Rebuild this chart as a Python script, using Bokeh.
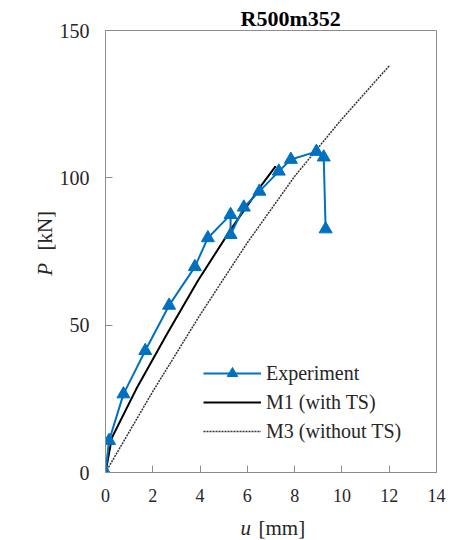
import math
from bokeh.plotting import figure
from bokeh.models import Range1d, FixedTicker, Label, Legend, LegendItem, Title
from bokeh.embed import file_html
from bokeh.resources import INLINE

# ---- data ----
exp_u = [0.0, 0.15, 0.76, 1.68, 2.69, 3.78, 4.33, 5.29, 5.29, 5.85, 6.51, 7.33, 7.84, 8.92, 9.23, 9.31]
exp_p = [0.0, 10.8, 26.6, 41.3, 56.7, 69.8, 79.6, 87.5, 80.7, 90.0, 95.4, 102.2, 106.2, 108.9, 107.0, 82.6]

m1_u = [0.0, 0.27, 1.3, 2.6, 3.9, 5.3, 6.6, 7.2]
m1_p = [0.0, 11.8, 28.3, 47.0, 65.0, 82.5, 97.5, 104.0]

m3_u = [0.0, 2.0, 4.0, 6.0, 8.0, 10.0, 12.0]
m3_p = [0.0, 27.5, 53.5, 78.0, 100.5, 120.0, 138.0]

x_ticks = [0, 2, 4, 6, 8, 10, 12, 14]
y_ticks = [0, 50, 100, 150]

title_text = "R500m352"
legend_labels = ["Experiment", "M1 (with TS)", "M3 (without TS)"]

FONT = "Liberation Serif"
BLUE = "#0070C0"
GRAY = "#8c8c8c"
TXT = "#262626"

p = figure(width=463, height=540, output_backend="svg", toolbar_location=None,
           x_range=Range1d(0, 14), y_range=Range1d(0, 150),
           min_border_left=105, min_border_right=27, min_border_top=30, min_border_bottom=68)
p.background_fill_color = "white"
p.border_fill_color = "white"
p.outline_line_color = GRAY
p.outline_line_width = 1
p.xgrid.grid_line_color = None
p.ygrid.grid_line_color = None

for ax, ticks, fs in ((p.xaxis, x_ticks, "18px"), (p.yaxis, y_ticks, "20px")):
    ax.ticker = FixedTicker(ticks=ticks)
    ax.axis_line_color = GRAY
    ax.major_tick_line_color = GRAY
    ax.minor_tick_line_color = None
    ax.major_tick_in = 7
    ax.major_tick_out = 0
    ax.major_label_text_font = FONT
    ax.major_label_text_font_size = fs
    ax.major_label_text_color = TXT
    ax.major_label_standoff = 16

r3 = p.line(m3_u, m3_p, line_color="#333333", line_width=1.5, line_dash="2 1")
r1 = p.line(m1_u, m1_p, line_color="black", line_width=2)
re_l = p.line(exp_u, exp_p, line_color=BLUE, line_width=2)
re_m = p.scatter(exp_u, exp_p, marker="triangle", size=13, fill_color=BLUE, line_color=BLUE)

legend = Legend(items=[
    LegendItem(label=legend_labels[0], renderers=[re_l, re_m]),
    LegendItem(label=legend_labels[1], renderers=[r1]),
    LegendItem(label=legend_labels[2], renderers=[r3]),
], location=(98, 28))
legend.background_fill_alpha = 0
legend.border_line_alpha = 0
legend.padding = 0
legend.margin = 0
legend.spacing = 3
legend.glyph_width = 58
legend.glyph_height = 26
legend.label_height = 26
legend.label_standoff = 5
legend.label_text_font = FONT
legend.label_text_font_size = "20px"
legend.label_text_color = TXT
p.add_layout(legend)

# title
p.title = Title(text=title_text, align="left", offset=135, standoff=0,
                text_font=FONT, text_font_size="22px", text_font_style="bold", text_color="black")

# y label (side panel, so not clipped by the frame)
p.add_layout(Label(x=-2.54, y=66.8, text="P", text_font=FONT, text_font_size="21px",
                   text_font_style="italic", text_color=TXT, angle=math.pi / 2,
                   text_baseline="middle", text_align="left"), "left")
p.add_layout(Label(x=-2.54, y=75.3, text="[kN]", text_font=FONT, text_font_size="21px",
                   text_color=TXT, angle=math.pi / 2, text_baseline="middle", text_align="left"), "left")
# x label
p.add_layout(Label(x=5.71, y=-18.9, text="u", text_font=FONT, text_font_size="21px",
                   text_font_style="italic", text_color=TXT, text_baseline="middle",
                   text_align="left"), "right")
p.add_layout(Label(x=6.47, y=-18.9, text="[mm]", text_font=FONT, text_font_size="21px",
                   text_color=TXT, text_baseline="middle", text_align="left"), "below")

open("out.html", "w").write(file_html(p, INLINE))
